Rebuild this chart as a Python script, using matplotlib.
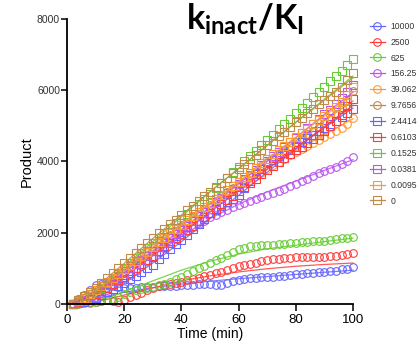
import matplotlib
matplotlib.use("Agg")
import matplotlib.pyplot as plt
from matplotlib.lines import Line2D

plt.rcParams['font.family'] = ['Liberation Sans', 'DejaVu Sans']
plt.rcParams['mathtext.fontset'] = 'custom'
plt.rcParams['mathtext.rm'] = 'Lato'
plt.rcParams['mathtext.bf'] = 'Lato:bold'
plt.rcParams['mathtext.it'] = 'Lato:bold'

# time points (min)
time = [2, 4, 6, 8, 10, 12, 14, 16, 18, 20, 22, 24, 26, 28, 30, 32, 34, 36, 38, 40,
        42, 44, 46, 48, 50, 52, 54, 56, 58, 60, 62, 64, 66, 68, 70, 72, 74, 76, 78, 80,
        82, 84, 86, 88, 90, 92, 94, 96, 98, 100]
fit_time = [0, 10, 20, 30, 40, 50, 60, 70, 80, 90, 100]

labels = ['10000', '2500', '625', '156.25', '39.062', '9.7656',
          '2.4414', '0.6103', '0.1525', '0.0381', '0.0095', '0']
colors = ['#6666ff', '#ff3b3b', '#66cc33', '#bb55ee', '#ff9933', '#c08a48',
          '#6666ff', '#ff3b3b', '#66cc33', '#bb55ee', '#ff9933', '#c08a48']
markers = ['o'] * 6 + ['s'] * 6

# measured product
y_10000 = [0, 100, 250, 400, 520, 560, 560, 520, 480, 460, 450, 460, 470, 480, 490, 500, 500, 510, 510, 520,
           530, 540, 560, 570, 550, 530, 540, 580, 640, 680, 700, 730, 740, 760, 770, 760, 780, 800, 820, 850,
           850, 860, 880, 900, 890, 920, 940, 980, 990, 1050]
y_2500 = [0, 130, 100, 60, 50, 80, 100, 80, 60, 100, 200, 260, 310, 380, 440, 500, 520, 560, 600, 630,
          670, 710, 740, 780, 820, 860, 900, 960, 1020, 1080, 1100, 1130, 1160, 1200, 1230, 1250, 1270, 1280, 1300, 1310,
          1320, 1330, 1310, 1320, 1330, 1350, 1360, 1380, 1390, 1420]
y_625 = [0, 0, 20, 40, 60, 80, 100, 150, 200, 280, 340, 390, 430, 460, 490, 520, 560, 620, 690, 770,
         850, 930, 1000, 1080, 1150, 1230, 1300, 1380, 1460, 1530, 1580, 1620, 1640, 1650, 1660, 1670, 1680, 1690, 1700, 1720,
         1730, 1740, 1760, 1770, 1780, 1790, 1820, 1840, 1860, 1890]
y_156 = [0, 30, 80, 130, 200, 300, 400, 500, 600, 700, 820, 940, 1060, 1200, 1330, 1450, 1570, 1700, 1820, 1950,
         2050, 2150, 2250, 2340, 2430, 2500, 2570, 2640, 2710, 2780, 2840, 2900, 2950, 3000, 3060, 3110, 3160, 3230, 3300, 3380,
         3450, 3520, 3600, 3680, 3740, 3780, 3850, 3930, 4020, 4130]
y_39 = [0, 30, 100, 180, 280, 400, 520, 640, 760, 880, 1000, 1120, 1250, 1380, 1500, 1630, 1760, 1890, 2010, 2130,
        2250, 2370, 2490, 2610, 2720, 2840, 2950, 3060, 3170, 3280, 3390, 3490, 3590, 3690, 3790, 3890, 3990, 4080, 4170, 4260,
        4350, 4440, 4530, 4610, 4700, 4780, 4860, 4950, 5050, 5230]
y_9 = [0, 40, 120, 220, 330, 450, 570, 690, 810, 930, 1060, 1190, 1320, 1450, 1580, 1700, 1820, 1940, 2060, 2180,
       2300, 2420, 2540, 2660, 2780, 2900, 3020, 3140, 3260, 3380, 3500, 3620, 3740, 3860, 3980, 4100, 4210, 4320, 4430, 4540,
       4650, 4760, 4870, 4980, 5090, 5200, 5330, 5500, 5700, 5980]
y_2 = [0, 20, 50, 100, 170, 250, 330, 420, 510, 600, 700, 800, 900, 1000, 1100, 1250, 1400, 1550, 1680, 1800,
       1950, 2100, 2250, 2400, 2550, 2650, 2750, 2850, 2960, 3070, 3250, 3450, 3650, 3800, 3950, 4050, 4150, 4250, 4330, 4420,
       4550, 4650, 4750, 4850, 4950, 5050, 5150, 5250, 5350, 5470]
y_06 = [0, 50, 120, 200, 280, 370, 460, 560, 660, 760, 880, 1000, 1120, 1240, 1360, 1480, 1600, 1720, 1840, 1960,
        2080, 2200, 2320, 2440, 2560, 2680, 2800, 2920, 3040, 3160, 3280, 3400, 3520, 3640, 3760, 3870, 3980, 4090, 4200, 4310,
        4420, 4530, 4640, 4750, 4860, 5000, 5150, 5300, 5550, 5750]
y_015 = [0, 30, 100, 200, 320, 450, 580, 720, 860, 1000, 1140, 1280, 1420, 1560, 1700, 1840, 1980, 2120, 2260, 2400,
         2540, 2680, 2820, 2960, 3100, 3250, 3400, 3550, 3700, 3850, 4000, 4150, 4300, 4450, 4600, 4750, 4900, 5050, 5200, 5350,
         5500, 5650, 5800, 5950, 6100, 6250, 6400, 6550, 6700, 6880]
y_004 = [0, 40, 110, 200, 300, 410, 520, 640, 760, 880, 1000, 1120, 1240, 1360, 1480, 1600, 1720, 1840, 1960, 2080,
         2200, 2330, 2460, 2590, 2720, 2850, 2980, 3110, 3240, 3370, 3500, 3630, 3760, 3890, 4020, 4150, 4280, 4410, 4540, 4670,
         4800, 4930, 5060, 5190, 5320, 5450, 5600, 5780, 5950, 6150]
y_001 = [0, 80, 180, 280, 390, 500, 610, 730, 850, 970, 1090, 1210, 1340, 1470, 1600, 1730, 1860, 1990, 2110, 2230,
         2350, 2470, 2590, 2710, 2830, 2950, 3070, 3190, 3310, 3430, 3560, 3690, 3820, 3950, 4080, 4200, 4320, 4440, 4560, 4680,
         4800, 4920, 5040, 5160, 5280, 5400, 5530, 5680, 5880, 6100]
y_0 = [0, 100, 220, 340, 460, 590, 720, 860, 1000, 1140, 1280, 1420, 1560, 1700, 1840, 1980, 2110, 2240, 2370, 2500,
       2630, 2760, 2890, 3020, 3150, 3280, 3410, 3540, 3670, 3800, 3930, 4060, 4190, 4320, 4450, 4580, 4710, 4840, 4970, 5100,
       5230, 5360, 5480, 5600, 5720, 5840, 5960, 6100, 6300, 6480]

# fitted curves
fit_10000 = [0, 150, 330, 460, 560, 640, 710, 770, 830, 890, 950]
fit_2500 = [0, 50, 250, 450, 650, 790, 900, 990, 1060, 1110, 1150]
fit_625 = [0, 40, 350, 650, 950, 1200, 1400, 1550, 1650, 1750, 1850]
fit_156 = [0, 250, 750, 1350, 1900, 2400, 2800, 3150, 3450, 3750, 4050]
fit_39 = [0, 300, 900, 1500, 2100, 2700, 3250, 3800, 4300, 4750, 5200]
fit_9 = [0, 330, 950, 1570, 2190, 2800, 3400, 4000, 4580, 5150, 5700]
fit_2 = [0, 170, 600, 1150, 1750, 2400, 3050, 3700, 4350, 4950, 5500]
fit_06 = [0, 280, 780, 1380, 1980, 2580, 3180, 3780, 4380, 4980, 5580]
fit_015 = [0, 350, 1050, 1750, 2450, 3150, 3800, 4450, 5100, 5750, 6400]
fit_004 = [0, 300, 880, 1480, 2080, 2720, 3370, 4020, 4670, 5320, 5950]
fit_001 = [0, 390, 970, 1600, 2230, 2830, 3430, 4080, 4680, 5280, 5880]
fit_0 = [0, 460, 1140, 1840, 2500, 3150, 3800, 4450, 5100, 5720, 6350]

series = [y_10000, y_2500, y_625, y_156, y_39, y_9, y_2, y_06, y_015, y_004, y_001, y_0]
fits = [fit_10000, fit_2500, fit_625, fit_156, fit_39, fit_9, fit_2, fit_06, fit_015, fit_004, fit_001, fit_0]

fig = plt.figure(figsize=(4.19, 3.45), dpi=100)
ax = fig.add_axes([67 / 419, 41 / 345, 286 / 419, 285 / 345])

handles = []
for y, f, c, m, lab in zip(series, fits, colors, markers, labels):
    ax.plot(fit_time, f, color=c, lw=0.9, alpha=0.85, clip_on=False)
    ax.plot(time, y, ls='none', marker=m, ms=5.5, mfc='none', mec=c, mew=0.8, clip_on=False)
    handles.append(Line2D([], [], color=c, lw=0.9, marker=m, ms=5.5, mfc='none', mec=c, mew=0.8))

ax.set_xlim(0, 100)
ax.set_ylim(0, 8000)
ax.set_xticks([0, 20, 40, 60, 80, 100])
ax.set_yticks([0, 2000, 4000, 6000, 8000])
for s in ['top', 'right']:
    ax.spines[s].set_visible(False)
for s in ['left', 'bottom']:
    ax.spines[s].set_linewidth(1.3)
ax.tick_params(axis='x', length=5, width=1.1, labelsize=9.5, pad=2)
ax.tick_params(axis='y', length=4, width=1.1, labelsize=7.5, pad=1, labelcolor='#333333')
ax.set_xlabel('Time (min)', fontsize=10, labelpad=1)
ax.set_ylabel('Product', fontsize=10.5, labelpad=2)

fig.text(245 / 419, 0.995, r'$\mathbf{k_{inact}/K_I}$', fontsize=24.5, ha='center', va='top')

fig.legend(handles, labels, loc='upper left', bbox_to_anchor=(370 / 419, 0.937),
           frameon=False, fontsize=6.2, labelspacing=0.8, handlelength=1.7,
           handletextpad=0.7, borderpad=0, borderaxespad=0, labelcolor='#333333')

fig.savefig('out.png', dpi=100)
